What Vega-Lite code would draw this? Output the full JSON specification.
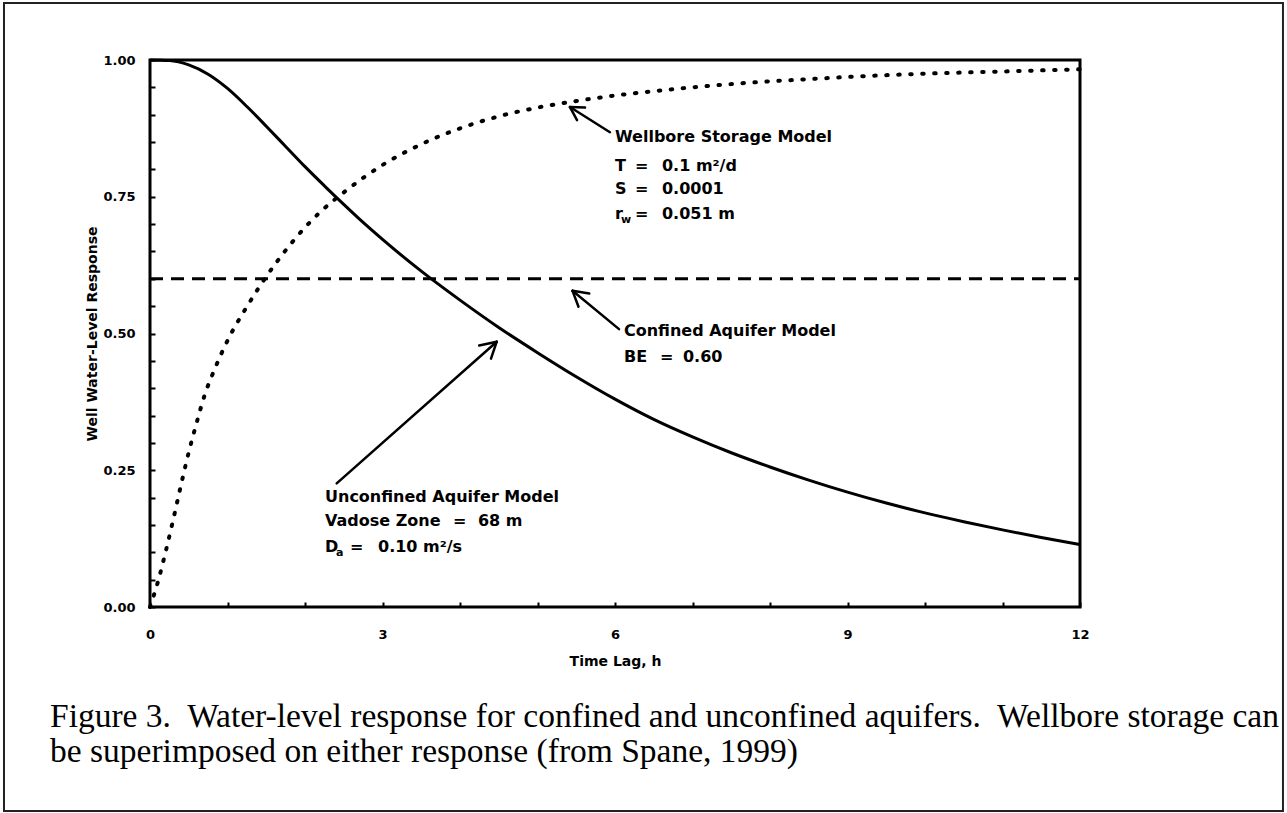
{
  "$schema": "https://vega.github.io/schema/vega-lite/v6.json",
  "width": 930,
  "height": 547,
  "autosize": {"type": "none"},
  "padding": {"left": 150, "top": 60, "right": 207, "bottom": 206},
  "background": "white",
  "config": {
    "view": {"stroke": "black", "strokeWidth": 3}
  },
  "datasets": {
    "curves": [
      {"model": "unconfined", "t": 0, "v": 1.0},
      {"model": "unconfined", "t": 0.25, "v": 0.999},
      {"model": "unconfined", "t": 0.5, "v": 0.991},
      {"model": "unconfined", "t": 0.75, "v": 0.974},
      {"model": "unconfined", "t": 1.0, "v": 0.948},
      {"model": "unconfined", "t": 1.25, "v": 0.915},
      {"model": "unconfined", "t": 1.5, "v": 0.879},
      {"model": "unconfined", "t": 1.75, "v": 0.842},
      {"model": "unconfined", "t": 2.0, "v": 0.805},
      {"model": "unconfined", "t": 2.25, "v": 0.77},
      {"model": "unconfined", "t": 2.5, "v": 0.736},
      {"model": "unconfined", "t": 2.75, "v": 0.703},
      {"model": "unconfined", "t": 3.0, "v": 0.672},
      {"model": "unconfined", "t": 3.5, "v": 0.614},
      {"model": "unconfined", "t": 4.0, "v": 0.561},
      {"model": "unconfined", "t": 4.5, "v": 0.511},
      {"model": "unconfined", "t": 5.0, "v": 0.465},
      {"model": "unconfined", "t": 5.5, "v": 0.421},
      {"model": "unconfined", "t": 6.0, "v": 0.38},
      {"model": "unconfined", "t": 6.5, "v": 0.343},
      {"model": "unconfined", "t": 7.0, "v": 0.311},
      {"model": "unconfined", "t": 7.5, "v": 0.282},
      {"model": "unconfined", "t": 8.0, "v": 0.256},
      {"model": "unconfined", "t": 8.5, "v": 0.232},
      {"model": "unconfined", "t": 9.0, "v": 0.21},
      {"model": "unconfined", "t": 9.5, "v": 0.19},
      {"model": "unconfined", "t": 10.0, "v": 0.172},
      {"model": "unconfined", "t": 10.5, "v": 0.156},
      {"model": "unconfined", "t": 11.0, "v": 0.141},
      {"model": "unconfined", "t": 11.5, "v": 0.127},
      {"model": "unconfined", "t": 12.0, "v": 0.114},
      {"model": "wellbore", "t": 0, "v": 0},
      {"model": "wellbore", "t": 0.1, "v": 0.045},
      {"model": "wellbore", "t": 0.2, "v": 0.1},
      {"model": "wellbore", "t": 0.3, "v": 0.16},
      {"model": "wellbore", "t": 0.4, "v": 0.223},
      {"model": "wellbore", "t": 0.5, "v": 0.283},
      {"model": "wellbore", "t": 0.6, "v": 0.336},
      {"model": "wellbore", "t": 0.7, "v": 0.385},
      {"model": "wellbore", "t": 0.85, "v": 0.44},
      {"model": "wellbore", "t": 1.0, "v": 0.487},
      {"model": "wellbore", "t": 1.25, "v": 0.549},
      {"model": "wellbore", "t": 1.5, "v": 0.604},
      {"model": "wellbore", "t": 1.75, "v": 0.652},
      {"model": "wellbore", "t": 2.0, "v": 0.694},
      {"model": "wellbore", "t": 2.25, "v": 0.729},
      {"model": "wellbore", "t": 2.5, "v": 0.758},
      {"model": "wellbore", "t": 3.0, "v": 0.808},
      {"model": "wellbore", "t": 3.5, "v": 0.846},
      {"model": "wellbore", "t": 4.0, "v": 0.875},
      {"model": "wellbore", "t": 4.5, "v": 0.897},
      {"model": "wellbore", "t": 5.0, "v": 0.913},
      {"model": "wellbore", "t": 5.5, "v": 0.925},
      {"model": "wellbore", "t": 6.0, "v": 0.935},
      {"model": "wellbore", "t": 6.5, "v": 0.943},
      {"model": "wellbore", "t": 7.0, "v": 0.95},
      {"model": "wellbore", "t": 7.5, "v": 0.956},
      {"model": "wellbore", "t": 8.0, "v": 0.961},
      {"model": "wellbore", "t": 8.5, "v": 0.965},
      {"model": "wellbore", "t": 9.0, "v": 0.969},
      {"model": "wellbore", "t": 10.0, "v": 0.975},
      {"model": "wellbore", "t": 11.0, "v": 0.979},
      {"model": "wellbore", "t": 12.0, "v": 0.983},
      {"model": "confined", "t": 0, "v": 0.6},
      {"model": "confined", "t": 12, "v": 0.6}
    ],
    "arrows": [
      {"t": 5.419, "v": 0.914, "t2": 5.935, "v2": 0.868},
      {"t": 5.419, "v": 0.914, "t2": 5.51, "v2": 0.89},
      {"t": 5.419, "v": 0.914, "t2": 5.613, "v2": 0.913},
      {"t": 5.452, "v": 0.578, "t2": 6.052, "v2": 0.508},
      {"t": 5.452, "v": 0.578, "t2": 5.529, "v2": 0.549},
      {"t": 5.452, "v": 0.578, "t2": 5.668, "v2": 0.573},
      {"t": 4.474, "v": 0.485, "t2": 2.409, "v2": 0.226},
      {"t": 4.474, "v": 0.485, "t2": 4.247, "v2": 0.478},
      {"t": 4.474, "v": 0.485, "t2": 4.4, "v2": 0.454}
    ],
    "notes": [
      {"t": 6.0, "v": 0.859, "text": "Wellbore Storage Model"},
      {"t": 6.0, "v": 0.806, "text": "T"},
      {"t": 6.258, "v": 0.806, "text": "="},
      {"t": 6.606, "v": 0.806, "text": "0.1 m²/d"},
      {"t": 6.0, "v": 0.764, "text": "S"},
      {"t": 6.258, "v": 0.764, "text": "="},
      {"t": 6.606, "v": 0.764, "text": "0.0001"},
      {"t": 6.0, "v": 0.718, "text": "r"},
      {"t": 6.258, "v": 0.718, "text": "="},
      {"t": 6.606, "v": 0.718, "text": "0.051 m"},
      {"t": 6.116, "v": 0.505, "text": "Confined Aquifer Model"},
      {"t": 6.116, "v": 0.457, "text": "BE"},
      {"t": 6.581, "v": 0.457, "text": "="},
      {"t": 6.877, "v": 0.457, "text": "0.60"},
      {"t": 2.258, "v": 0.201, "text": "Unconfined Aquifer Model"},
      {"t": 2.258, "v": 0.157, "text": "Vadose Zone"},
      {"t": 3.91, "v": 0.157, "text": "="},
      {"t": 4.232, "v": 0.157, "text": "68 m"},
      {"t": 2.258, "v": 0.109, "text": "D"},
      {"t": 2.58, "v": 0.109, "text": "="},
      {"t": 2.942, "v": 0.109, "text": "0.10 m²/s"}
    ],
    "subs": [
      {"t": 6.077, "v": 0.718, "text": "w"},
      {"t": 2.4, "v": 0.109, "text": "a"}
    ],
    "caption": [
      {"t": -1.29, "v": -0.201, "text": "Figure 3.\u00a0 Water-level response for confined and unconfined aquifers.\u00a0 Wellbore storage can"},
      {"t": -1.29, "v": -0.265, "text": "be superimposed on either response (from Spane, 1999)"}
    ],
    "border": [
      {"t": -1.884, "v": 1.104, "t2": 14.619, "v2": -0.373}
    ]
  },
  "encoding": {
    "x": {
      "field": "t",
      "type": "quantitative",
      "scale": {"domain": [0, 12], "nice": false, "zero": false},
      "axis": {
        "title": "Time Lag, h",
        "values": [0, 1, 2, 3, 4, 5, 6, 7, 8, 9, 10, 11, 12],
        "labelExpr": "datum.value % 3 === 0 ? datum.label : ''",
        "tickSize": -5,
        "tickWidth": 2,
        "tickColor": "black",
        "domain": false,
        "grid": false,
        "labelFont": "DejaVu Sans",
        "labelFontWeight": "bold",
        "labelFontSize": 13,
        "labelColor": "black",
        "labelPadding": 26,
        "labelFlush": false,
        "labelOverlap": false,
        "labelBound": false,
        "titleFont": "DejaVu Sans",
        "titleFontWeight": "bold",
        "titleFontSize": 14,
        "titleColor": "black",
        "titlePadding": 13
      }
    },
    "y": {
      "field": "v",
      "type": "quantitative",
      "scale": {"domain": [0, 1], "nice": false, "zero": false},
      "axis": {
        "title": "Well Water-Level Response",
        "values": [0, 0.05, 0.1, 0.15, 0.2, 0.25, 0.3, 0.35, 0.4, 0.45, 0.5, 0.55, 0.6, 0.65, 0.7, 0.75, 0.8, 0.85, 0.9, 0.95, 1],
        "labelExpr": "abs(datum.value * 4 - round(datum.value * 4)) < 0.001 ? format(datum.value, '.2f') : ''",
        "tickSize": -5,
        "tickWidth": 2,
        "tickColor": "black",
        "domain": false,
        "grid": false,
        "labelFont": "DejaVu Sans",
        "labelFontWeight": "bold",
        "labelFontSize": 13,
        "labelColor": "black",
        "labelPadding": 20,
        "labelFlush": false,
        "labelOverlap": false,
        "labelBound": false,
        "titleFont": "DejaVu Sans",
        "titleFontWeight": "bold",
        "titleFontSize": 14,
        "titleColor": "black",
        "titlePadding": 3
      }
    }
  },
  "layer": [
    {
      "data": {"name": "border"},
      "mark": {"type": "rect", "filled": false, "stroke": "#222222", "strokeWidth": 2},
      "encoding": {"x2": {"field": "t2"}, "y2": {"field": "v2"}}
    },
    {
      "data": {"name": "curves"},
      "transform": [{"filter": "datum.model === 'unconfined'"}],
      "mark": {"type": "line", "color": "black", "strokeWidth": 3, "interpolate": "monotone"}
    },
    {
      "data": {"name": "curves"},
      "transform": [{"filter": "datum.model === 'confined'"}],
      "mark": {"type": "line", "color": "black", "strokeWidth": 3, "strokeDash": [13, 8]}
    },
    {
      "data": {"name": "curves"},
      "transform": [{"filter": "datum.model === 'wellbore'"}],
      "mark": {"type": "line", "color": "black", "strokeWidth": 4, "strokeDash": [1.5, 10.5], "strokeCap": "round", "interpolate": "monotone"}
    },
    {
      "data": {"name": "arrows"},
      "mark": {"type": "rule", "color": "black", "strokeWidth": 2.5, "strokeCap": "round"},
      "encoding": {"x2": {"field": "t2"}, "y2": {"field": "v2"}}
    },
    {
      "data": {"name": "notes"},
      "mark": {"type": "text", "font": "DejaVu Sans", "fontWeight": "bold", "fontSize": 16, "align": "left", "baseline": "middle", "color": "black"},
      "encoding": {"text": {"field": "text"}}
    },
    {
      "data": {"name": "subs"},
      "mark": {"type": "text", "font": "DejaVu Sans", "fontWeight": "bold", "fontSize": 11, "align": "left", "baseline": "middle", "dy": 6, "color": "black"},
      "encoding": {"text": {"field": "text"}}
    },
    {
      "data": {"name": "caption"},
      "mark": {"type": "text", "font": "Liberation Serif", "fontSize": 33.5, "align": "left", "baseline": "middle", "color": "black"},
      "encoding": {"text": {"field": "text"}}
    }
  ]
}
